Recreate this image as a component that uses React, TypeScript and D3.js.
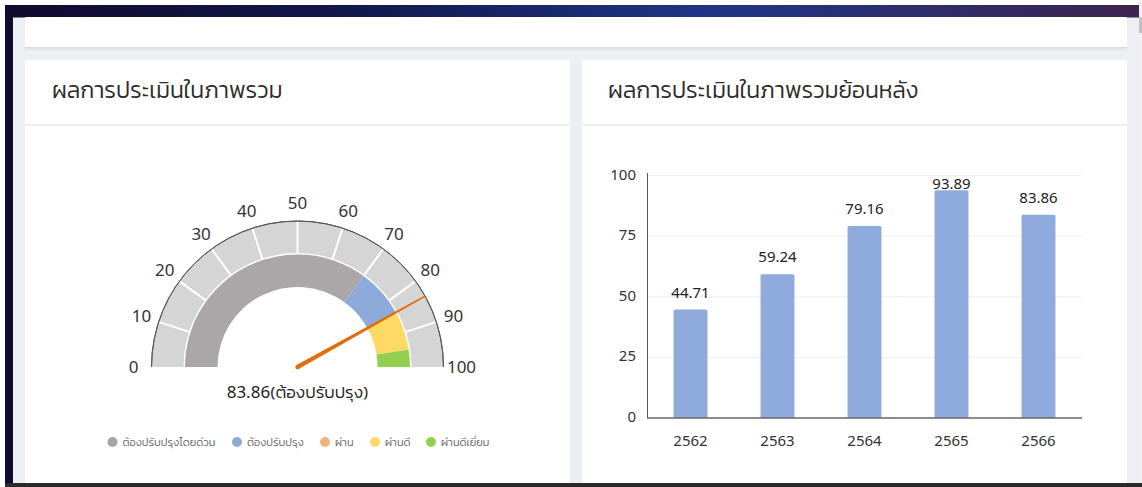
import React from 'react';
import * as d3 from 'd3';

// ---- data ----
const gaugeTicks = [0, 10, 20, 30, 40, 50, 60, 70, 80, 90, 100];
const levelNames = ['ต้องปรับปรุงโดยด่วน', 'ต้องปรับปรุง', 'ผ่าน', 'ผ่านดี', 'ผ่านดีเยี่ยม'];
const levelUpper = [70, 84, 84, 95, 100];
const overallScore = 83.86;
const overallLevel = 'ต้องปรับปรุง';

const years = ['2562', '2563', '2564', '2565', '2566'];
const yearScores = [44.71, 59.24, 79.16, 93.89, 83.86];
const yTicks = [0, 25, 50, 75, 100];

const leftTitle = 'ผลการประเมินในภาพรวม';
const rightTitle = 'ผลการประเมินในภาพรวมย้อนหลัง';

// styles
const levelColors = ['#aba7a8', '#8eaadb', '#f4b183', '#ffd966', '#92d050'];
const legendColors = ['#a5a5a5', '#8eaadb', '#f4b183', '#ffd966', '#92d050'];
const FONT = "'Noto Sans', sans-serif";
const THAI = "Kanit, Prompt, sans-serif";

const W = 1142;
const H = 487;

function Gauge() {
  const cx = 297.5;
  const cy = 367;
  const angle = d3.scaleLinear().domain([0, 100]).range([-Math.PI / 2, Math.PI / 2]);
  const outer = d3.arc<any>().innerRadius(114).outerRadius(146);
  const inner = d3.arc<any>().innerRadius(80).outerRadius(112.5);
  const edge = d3.arc<any>().innerRadius(146).outerRadius(146);

  const starts = levelUpper.map((_, i) => (i === 0 ? 0 : levelUpper[i - 1]));

  const a = angle(overallScore);
  const L = 146;
  const w0 = 2.2, w1 = 0.8;
  const px = Math.cos(a), py = Math.sin(a);
  const tx = Math.sin(a) * L, ty = -Math.cos(a) * L;
  const needle = `M${px * w0},${py * w0} L${tx + px * w1},${ty + py * w1} L${tx - px * w1},${ty - py * w1} L${-px * w0},${-py * w0} Z`;

  const legendPos = [112.5, 237, 325, 375, 431];

  return (
    <g>
      <g transform={`translate(${cx},${cy})`}>
        <path d={outer({ startAngle: angle(0), endAngle: angle(100) }) || ''} fill="#d5d5d5" />
        {gaugeTicks.slice(1, -1).map((t) => {
          const ta = angle(t);
          return (
            <line key={t}
              x1={Math.sin(ta) * 113} y1={-Math.cos(ta) * 113}
              x2={Math.sin(ta) * 146} y2={-Math.cos(ta) * 146}
              stroke="#fff" strokeWidth={2} />
          );
        })}
        <path d={edge({ startAngle: angle(0), endAngle: angle(100) }) || ''} fill="none" stroke="#555" strokeWidth={1} />
        {levelUpper.map((u, i) => (
          u > starts[i] ? (
            <path key={i} d={inner({ startAngle: angle(starts[i]), endAngle: angle(u) }) || ''} fill={levelColors[i]} />
          ) : null
        ))}
        {gaugeTicks.map((t) => {
          const ta = angle(t);
          return (
            <text key={t} x={Math.sin(ta) * 164} y={-Math.cos(ta) * 164 - 1}
              textAnchor="middle" dominantBaseline="central"
              fontSize={17} fill="#333">{t}</text>
          );
        })}
        <path d={needle} fill="#e46c0a" />
        <circle r={w0} fill="#e46c0a" />
        <text x={0} y={31} textAnchor="middle" fontSize={17} fill="#222">
          <tspan>{overallScore.toFixed(2)}</tspan>
          <tspan fontFamily={THAI} fontWeight={300}>({overallLevel})</tspan>
        </text>
      </g>
      <g>
        {levelNames.map((n, i) => (
          <g key={n} transform={`translate(${legendPos[i]},442)`}>
            <circle r={5} fill={legendColors[i]} />
            <text x={10} y={0} dominantBaseline="central" fontSize={11} fill="#666"
              fontFamily={THAI} fontWeight={300}>{n}</text>
          </g>
        ))}
      </g>
    </g>
  );
}

function Bars() {
  const x = d3.scaleBand<string>().domain(years).range([647, 1082]).paddingInner(0.61).paddingOuter(0.305);
  const y = d3.scaleLinear().domain([0, 100]).range([418, 175.5]);
  const labelTop = y(100) + 13;
  return (
    <g>
      {yTicks.slice(1).map((t) => (
        <line key={t} x1={647} x2={1082} y1={y(t)} y2={y(t)} stroke="#eeeeee" strokeWidth={1} />
      ))}
      {yTicks.map((t) => (
        <text key={t} x={636} y={y(t) - 2} textAnchor="end" dominantBaseline="central" fontSize={15} fill="#333">{t}</text>
      ))}
      {years.map((yr, i) => (
        <g key={yr}>
          <rect x={x(yr)} y={y(yearScores[i])} width={x.bandwidth()} height={y(0) - y(yearScores[i])}
            fill="#8faadc" rx={1.5} />
          <text x={(x(yr) || 0) + x.bandwidth() / 2} y={Math.max(y(yearScores[i]) - 12, labelTop)}
            textAnchor="middle" fontSize={15} fill="#222">{yearScores[i].toFixed(2)}</text>
          <text x={(x(yr) || 0) + x.bandwidth() / 2} y={446} textAnchor="middle" fontSize={15} fill="#333">{yr}</text>
        </g>
      ))}
      <line x1={647.5} x2={647.5} y1={173} y2={418} stroke="#555" strokeWidth={1} />
      <line x1={647} x2={1082} y1={418} y2={418} stroke="#666" strokeWidth={1.5} />
    </g>
  );
}

export default function App() {
  return (
    <svg width={W} height={H} style={{ position: 'absolute', left: 0, top: 0, fontFamily: FONT }}>
      <defs>
        <linearGradient id="hdr" x1="0" x2="1" y1="0" y2="0">
          <stop offset="0%" stopColor="#110a2e" />
          <stop offset="30%" stopColor="#12184a" />
          <stop offset="62%" stopColor="#1f3586" />
          <stop offset="100%" stopColor="#3d2450" />
        </linearGradient>
        <linearGradient id="shadow" x1="0" x2="0" y1="0" y2="1">
          <stop offset="0%" stopColor="#d7dbe2" />
          <stop offset="100%" stopColor="#eceff4" />
        </linearGradient>
      </defs>
      <rect x={0} y={0} width={W} height={H} fill="#fff" />
      <rect x={5} y={5} width={1134} height={478} fill="#eceff4" />
      <rect x={5} y={5} width={8} height={H - 5} fill="#110b30" />
      <rect x={5} y={5} width={1134} height={12.5} fill="url(#hdr)" />
      <rect x={1139} y={0} width={3} height={H} fill="#f1f1f1" />
      <rect x={1139} y={17} width={3} height={16} fill="#c1c1c1" />
      <rect x={5} y={483} width={W - 5} height={4} fill="#2a2a2a" />

      {/* top card */}
      <rect x={25} y={47} width={1102} height={4} fill="url(#shadow)" />
      <rect x={25} y={17} width={1102} height={30} fill="#fff" />

      {/* cards */}
      <rect x={25} y={60} width={545} height={423} fill="#fff" />
      <rect x={582} y={60} width={545} height={423} fill="#fff" />
      <rect x={25} y={124} width={545} height={2} fill="#eceef1" />
      <rect x={582} y={124} width={545} height={2} fill="#eceef1" />
      <text x={52} y={98} fontSize={23} fill="#2b2b2b" fontFamily={THAI} fontWeight={300}>{leftTitle}</text>
      <text x={608} y={98} fontSize={23} fill="#2b2b2b" fontFamily={THAI} fontWeight={300}>{rightTitle}</text>

      <Gauge />
      <Bars />
    </svg>
  );
}
